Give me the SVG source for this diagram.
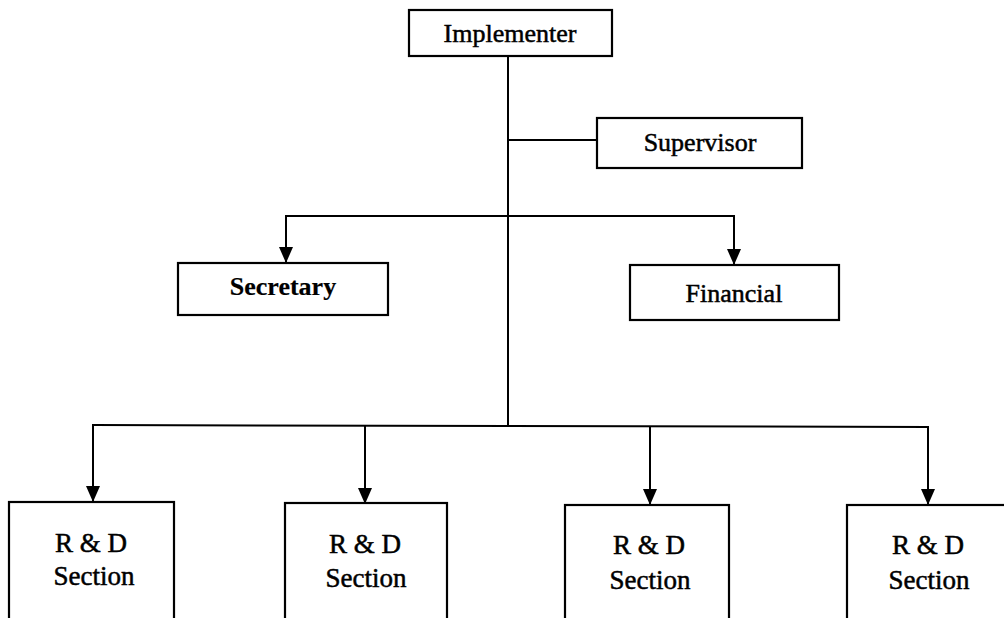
<svg xmlns="http://www.w3.org/2000/svg" width="1004" height="618" viewBox="0 0 1004 618">
  <style>
    .box { fill: #ffffff; stroke: #000000; stroke-width: 2.2; }
    .lbl { font-family: "Liberation Serif", "Times New Roman", serif; font-size: 26px; fill: #000000; stroke: #000000; stroke-width: 0.5; text-anchor: middle; }
    .rd { font-size: 27px; }
    .wire { fill: none; stroke: #000000; stroke-width: 2; }
  </style>
  <defs>
    <marker id="tip" viewBox="0 0 16 14" markerWidth="16" markerHeight="14" refX="16" refY="7" orient="auto" markerUnits="userSpaceOnUse">
      <path d="M0,0 L16,7 L0,14 Z" fill="#000000"/>
    </marker>
  </defs>

  <!-- connectors -->
  <g id="connectors">
    <line class="wire" x1="508" y1="56" x2="508" y2="426"/>
    <line class="wire" x1="508" y1="140" x2="597" y2="140"/>
    <polyline class="wire" points="286,216 734,216"/>
    <line class="wire" x1="286" y1="215" x2="286" y2="263" marker-end="url(#tip)"/>
    <line class="wire" x1="734" y1="215" x2="734" y2="265" marker-end="url(#tip)"/>
    <polyline class="wire" points="93,425 928,427"/>
    <line class="wire" x1="93" y1="424" x2="93" y2="502" marker-end="url(#tip)"/>
    <line class="wire" x1="365" y1="425" x2="365" y2="504" marker-end="url(#tip)"/>
    <line class="wire" x1="650" y1="426" x2="650" y2="505" marker-end="url(#tip)"/>
    <line class="wire" x1="928" y1="426" x2="928" y2="505" marker-end="url(#tip)"/>
  </g>

  <g id="implementer">
    <rect class="box" x="409" y="10" width="203" height="46"/>
    <text class="lbl" x="510" y="42">Implementer</text>
  </g>

  <g id="supervisor">
    <rect class="box" x="597" y="118" width="205" height="50"/>
    <text class="lbl" x="700" y="151">Supervisor</text>
  </g>

  <g id="secretary">
    <rect class="box" x="178" y="263" width="210" height="52"/>
    <text class="lbl" x="283" y="295" font-weight="bold" style="stroke-width:0.2">Secretary</text>
  </g>

  <g id="financial">
    <rect class="box" x="630" y="265" width="209" height="55"/>
    <text class="lbl" x="734" y="302">Financial</text>
  </g>

  <g id="rd1">
    <rect class="box" x="9" y="502" width="165" height="130"/>
    <text class="lbl rd" x="91" y="552">R &amp; D</text>
    <text class="lbl rd" x="94" y="585">Section</text>
  </g>

  <g id="rd2">
    <rect class="box" x="285" y="503" width="162" height="130"/>
    <text class="lbl rd" x="365" y="553">R &amp; D</text>
    <text class="lbl rd" x="366" y="587">Section</text>
  </g>

  <g id="rd3">
    <rect class="box" x="565" y="505" width="164" height="130"/>
    <text class="lbl rd" x="649" y="554">R &amp; D</text>
    <text class="lbl rd" x="650" y="589">Section</text>
  </g>

  <g id="rd4">
    <rect class="box" x="847" y="505" width="170" height="130"/>
    <text class="lbl rd" x="928" y="554">R &amp; D</text>
    <text class="lbl rd" x="929" y="589">Section</text>
  </g>
</svg>
